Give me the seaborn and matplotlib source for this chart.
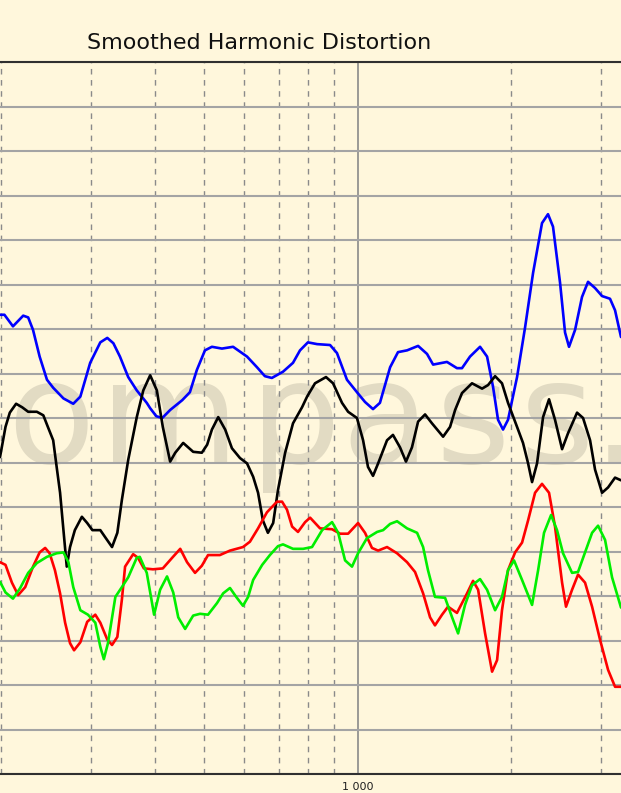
import numpy as np
import pandas as pd
import matplotlib
matplotlib.use("Agg")
import matplotlib.pyplot as plt
from matplotlib.ticker import FixedLocator, NullFormatter
import seaborn as sns

# curves: frequency (Hz) and level (dB, grid every 5 dB)
blue_hz = [199, 203, 211, 221, 226, 231, 238, 246, 253, 265, 277, 286, 299, 313, 323, 332,
           342, 355, 369, 386, 392, 403, 414, 429, 453, 469, 484, 502, 518, 542, 570, 607,
           635, 658, 679, 714, 747, 771, 799, 833, 883, 911, 953, 997, 1034, 1072, 1106,
           1158, 1200, 1250, 1314, 1368, 1406, 1497, 1566, 1602, 1661, 1738, 1794, 1843,
           1885, 1928, 1972, 2054, 2130, 2208, 2299, 2362, 2416, 2494, 2551, 2597, 2669,
           2754, 2830, 2921, 3015, 3125, 3197, 3284]
blue_db = [51.6, 51.6, 50.3, 51.5, 51.3, 49.9, 46.9, 44.3, 43.4, 42.2, 41.6, 42.4, 46.2, 48.5,
           49.0, 48.4, 46.9, 44.6, 43.1, 41.7, 41.1, 40.2, 40.0, 40.9, 42.0, 42.9, 45.4, 47.6,
           48.0, 47.8, 48.0, 46.9, 45.7, 44.7, 44.5, 45.2, 46.2, 47.6, 48.5, 48.3, 48.2, 47.3,
           44.3, 42.9, 41.8, 41.0, 41.7, 45.7, 47.4, 47.6, 48.1, 47.2, 46.0, 46.3, 45.6, 45.6,
           46.9, 48.0, 46.9, 43.5, 39.8, 38.7, 39.8, 44.6, 50.2, 56.3, 61.9, 62.9, 61.5, 55.2,
           49.6, 48.0, 49.9, 53.6, 55.3, 54.6, 53.7, 53.4, 52.1, 49.1]

black_hz = [199, 204, 208, 214, 220, 226, 235, 242, 247, 253, 257, 261, 265, 269, 273, 279,
            288, 295, 302, 313, 320, 330, 338, 345, 355, 369, 380, 392, 404, 415, 429, 439,
            455, 476, 495, 507, 518, 533, 550, 567, 588, 607, 624, 638, 652, 667, 683, 698,
            721, 747, 778, 796, 825, 867, 895, 932, 958, 997, 1025, 1048, 1072, 1097, 1142,
            1173, 1211, 1244, 1278, 1314, 1356, 1399, 1471, 1518, 1553, 1602, 1676, 1754,
            1802, 1860, 1919, 1972, 2054, 2110, 2159, 2198, 2248, 2310, 2373, 2438, 2517,
            2586, 2693, 2767, 2856, 2921, 3015, 3098, 3197, 3284]
black_db = [35.6, 39.0, 40.6, 41.6, 41.2, 40.7, 40.7, 40.3, 39.0, 37.5, 34.5, 31.6, 27.4, 23.3,
            25.5, 27.4, 28.9, 28.2, 27.4, 27.4, 26.6, 25.5, 27.1, 30.8, 35.3, 40.1, 43.1, 44.8,
            43.1, 39.0, 35.1, 36.1, 37.2, 36.2, 36.1, 37.0, 38.7, 40.1, 38.7, 36.6, 35.5, 34.9,
            33.4, 31.6, 28.5, 27.1, 28.2, 31.9, 36.1, 39.4, 41.2, 42.4, 43.9, 44.6, 43.9, 41.7,
            40.7, 40.0, 37.5, 34.5, 33.5, 34.9, 37.5, 38.1, 36.7, 35.1, 36.7, 39.6, 40.4, 39.4,
            37.9, 39.0, 40.9, 42.8, 43.9, 43.3, 43.7, 44.7, 43.9, 41.7, 39.0, 37.2, 34.9, 32.8,
            34.9, 40.1, 42.1, 39.8, 36.5, 38.3, 40.6, 40.0, 37.5, 34.2, 31.6, 32.2, 33.3, 33.0]

red_hz = [199, 204, 210, 216, 223, 231, 238, 244, 249, 255, 261, 267, 273, 278, 286, 295,
          306, 313, 323, 330, 338, 345, 350, 363, 371, 381, 397, 415, 433, 449, 463, 480,
          495, 509, 537, 562, 596, 615, 638, 664, 695, 711, 727, 744, 764, 789, 807, 844,
          891, 924, 958, 1002, 1034, 1067, 1097, 1142, 1195, 1250, 1296, 1344, 1387, 1418,
          1464, 1504, 1566, 1639, 1684, 1723, 1778, 1835, 1877, 1919, 1972, 2036, 2101,
          2159, 2228, 2299, 2373, 2438, 2517, 2562, 2633, 2705, 2792, 2882, 2987, 3098,
          3197, 3284]
red_db = [23.8, 23.5, 21.5, 20.1, 21.0, 23.3, 24.9, 25.4, 24.8, 22.9, 20.3, 17.0, 14.7, 13.9,
          14.8, 17.1, 17.9, 17.0, 15.1, 14.5, 15.4, 19.6, 23.3, 24.7, 24.3, 23.1, 23.0, 23.1,
          24.3, 25.3, 23.8, 22.6, 23.4, 24.6, 24.6, 25.1, 25.5, 26.1, 27.6, 29.4, 30.6, 30.6,
          29.7, 27.8, 27.2, 28.3, 28.8, 27.6, 27.5, 27.0, 27.0, 28.2, 27.1, 25.4, 25.1, 25.5,
          24.8, 23.8, 22.7, 20.3, 17.6, 16.7, 17.9, 18.8, 18.1, 20.3, 21.7, 20.7, 15.8, 11.5,
          12.8, 18.4, 22.9, 24.9, 26.0, 28.5, 31.6, 32.6, 31.6, 27.8, 21.5, 18.8, 20.7, 22.4,
          21.5, 18.8, 15.1, 11.7, 9.8, 9.8]

green_hz = [199, 204, 211, 218, 226, 235, 246, 257, 265, 271, 277, 286, 296, 306, 313, 318,
            324, 335, 345, 355, 369, 374, 386, 399, 410, 423, 435, 445, 459, 476, 491, 509,
            530, 545, 562, 578, 596, 610, 624, 650, 673, 698, 714, 747, 782, 814, 852, 891,
            916, 945, 975, 1002, 1043, 1092, 1122, 1158, 1195, 1250, 1308, 1344, 1374, 1418,
            1484, 1532, 1574, 1624, 1676, 1738, 1794, 1860, 1919, 1972, 2026, 2101, 2198,
            2259, 2320, 2395, 2460, 2528, 2633, 2705, 2792, 2882, 2961, 3056, 3154, 3284]
green_db = [21.6, 20.4, 19.7, 20.9, 22.6, 23.7, 24.4, 24.8, 24.9, 23.8, 21.0, 18.4, 17.9, 17.0,
            14.3, 12.9, 14.7, 19.9, 21.0, 22.1, 24.3, 24.4, 22.6, 17.9, 20.7, 22.2, 20.4, 17.6,
            16.3, 17.8, 18.0, 17.9, 19.2, 20.3, 20.9, 19.9, 18.9, 19.9, 21.8, 23.5, 24.6, 25.6,
            25.8, 25.3, 25.3, 25.5, 27.4, 28.3, 27.1, 24.0, 23.3, 24.8, 26.5, 27.2, 27.4, 28.1,
            28.4, 27.6, 27.1, 25.5, 22.9, 19.9, 19.8, 17.6, 15.8, 19.0, 21.2, 21.9, 20.7, 18.4,
            19.9, 22.9, 24.0, 21.8, 19.0, 22.9, 27.1, 29.1, 27.4, 24.8, 22.6, 22.7, 24.9, 27.1,
            27.9, 26.3, 22.1, 18.7]

series = {
    "blue": (blue_hz, blue_db),
    "black": (black_hz, black_db),
    "red": (red_hz, red_db),
    "green": (green_hz, green_db),
}
colors = {"blue": "#0000ff", "black": "#000000", "red": "#ff0000", "green": "#00ee00"}

df = pd.concat([pd.DataFrame({"freq": f, "level": v, "series": k})
                for k, (f, v) in series.items()], ignore_index=True)

sns.set_style("white")
bg = "#fff7dc"
fig = plt.figure(figsize=(6.21, 7.93), dpi=100, facecolor=bg)
ax = fig.add_axes([0, 19 / 793, 1, 712 / 793])
ax.set_facecolor("none")

# watermark behind everything (widely spaced letters, cut at the right edge)
wm_letters = ["o", "m", "p", "a", "s", "s", "."]
wm_x = [7, 100, 250, 341, 435, 519, 593]
for ch, px in zip(wm_letters, wm_x):
    fig.text(px / 621, 1 - 463 / 793, ch, fontsize=103, color="#e2dbc3",
             va="baseline", ha="left", zorder=-5)

sns.lineplot(data=df, x="freq", y="level", hue="series", palette=colors,
             estimator=None, sort=False, legend=False, linewidth=1.9, ax=ax)

ax.set_xscale("log")
ax.set_xlim(199, 3284)
ax.set_ylim(0, 80)

ax.xaxis.set_major_locator(FixedLocator([1000]))
ax.xaxis.set_minor_locator(FixedLocator([200, 300, 400, 500, 600, 700, 800, 900, 2000, 3000]))
ax.xaxis.set_minor_formatter(NullFormatter())
ax.set_xticks([1000])
ax.set_xticklabels(["1 000"], fontsize=8, color="#202020")
ax.set_yticks(np.arange(0, 81, 5))
ax.tick_params(axis="y", left=False, labelleft=False)
ax.tick_params(axis="x", which="major", direction="in", length=4, width=1, color="#000000", pad=6)
ax.tick_params(axis="x", which="minor", direction="out", length=2, width=1, color="#808080")

ax.grid(False)
ax.grid(True, axis="y", which="major", color="#a4a4a4", linewidth=1.5, linestyle="-")
ax.grid(True, axis="x", which="major", color="#8a8a8a", linewidth=1.2, linestyle="-")
ax.grid(True, axis="x", which="minor", color="#8a8a8a", linewidth=1.0, linestyle=(0, (4, 4)))
ax.set_axisbelow(True)

for s in ["left", "right"]:
    ax.spines[s].set_visible(False)
for s in ["top", "bottom"]:
    ax.spines[s].set_color("#303030")
    ax.spines[s].set_linewidth(1.5)

ax.set_xlabel("")
ax.set_ylabel("")

fig.text(87 / 621, 1 - 43 / 793, "Smoothed Harmonic Distortion", fontsize=16,
         color="#101010", va="center", ha="left")

fig.savefig("out.png", dpi=100, facecolor=bg)
